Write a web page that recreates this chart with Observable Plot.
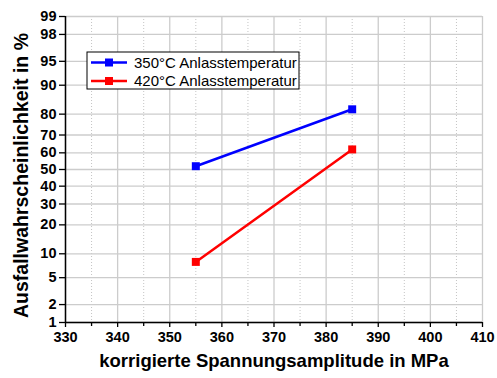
<!DOCTYPE html>
<html>
<head>
<meta charset="utf-8">
<script src="https://cdn.jsdelivr.net/npm/d3@7"></script>
<script src="https://cdn.jsdelivr.net/npm/@observablehq/plot@0.6"></script>
<style>
  html, body { margin: 0; padding: 0; background: #fff; }
  #chart { position: relative; width: 497px; height: 378px; }
</style>
</head>
<body>
<div id="chart"></div>
<script>
// ---- data ----
const seriesNames = ["350°C Anlasstemperatur", "420°C Anlasstemperatur"];
const seriesColors = ["#0000ff", "#ff0000"];
const stressAmplitude = [355, 385];             // MPa
const failure350 = [52, 82];                    // %
const failure420 = [8, 62];                     // %
const xTicks = [330, 340, 350, 360, 370, 380, 390, 400, 410];
const xMinorTicks = [335, 345, 355, 365, 375, 385, 395, 405];
const yTicks = [1, 2, 5, 10, 20, 30, 40, 50, 60, 70, 80, 90, 95, 98, 99];
const xTitle = "korrigierte Spannungsamplitude in MPa";
const yTitle = "Ausfallwahrscheinlichkeit in %";

// inverse normal CDF (Acklam) for probability-scale axis
function probit(p) {
  const a = [-3.969683028665376e+01, 2.209460984245205e+02, -2.759285104469687e+02, 1.383577518672690e+02, -3.066479806614716e+01, 2.506628277459239e+00];
  const b = [-5.447609879822406e+01, 1.615858368580409e+02, -1.556989798598866e+02, 6.680131188771972e+01, -1.328068155288572e+01];
  const c = [-7.784894002430293e-03, -3.223964580411365e-01, -2.400758277161838e+00, -2.549732539343734e+00, 4.374664141464968e+00, 2.938163982698783e+00];
  const d = [7.784695709041462e-03, 3.224671290700398e-01, 2.445134137142996e+00, 3.754408661907416e+00];
  const pl = 0.02425, ph = 1 - pl;
  let q, r;
  if (p < pl) {
    q = Math.sqrt(-2 * Math.log(p));
    return (((((c[0]*q+c[1])*q+c[2])*q+c[3])*q+c[4])*q+c[5]) / ((((d[0]*q+d[1])*q+d[2])*q+d[3])*q+1);
  } else if (p <= ph) {
    q = p - 0.5; r = q * q;
    return (((((a[0]*r+a[1])*r+a[2])*r+a[3])*r+a[4])*r+a[5])*q / (((((b[0]*r+b[1])*r+b[2])*r+b[3])*r+b[4])*r+1);
  } else {
    q = Math.sqrt(-2 * Math.log(1 - p));
    return -(((((c[0]*q+c[1])*q+c[2])*q+c[3])*q+c[4])*q+c[5]) / ((((d[0]*q+d[1])*q+d[2])*q+d[3])*q+1);
  }
}
const z = pct => probit(pct / 100);

const rows = [];
[failure350, failure420].forEach((vals, si) => {
  vals.forEach((v, i) => rows.push({series: seriesNames[si], x: stressAmplitude[i], p: v, zy: z(v)}));
});
const yTickZ = yTicks.map(z);
const yLabel = v => String(yTicks[yTickZ.indexOf(v)]);

const font = "'Liberation Sans', Arial, Helvetica, sans-serif";

const chart = Plot.plot({
  width: 497,
  height: 378,
  marginLeft: 65,
  marginRight: 15,
  marginTop: 16,
  marginBottom: 56,
  style: {fontFamily: font, background: "#fff", overflow: "visible"},
  x: {domain: [330, 410]},
  y: {domain: [z(1), z(99)]},
  color: {domain: seriesNames, range: seriesColors},
  marks: [
    Plot.gridX(xMinorTicks, {stroke: "#c4c4c4", strokeOpacity: 1, strokeDasharray: "1,2"}),
    Plot.gridX(xTicks, {stroke: "#cccccc", strokeOpacity: 1, strokeWidth: 1.3}),
    Plot.gridY(yTickZ, {stroke: "#cccccc", strokeOpacity: 1, strokeWidth: 1.3}),
    Plot.axisX(xTicks, {tickSize: 5, tickPadding: 4, fontSize: 14.5, fontWeight: "bold", label: null, strokeWidth: 1.3}),
    Plot.axisX(xMinorTicks, {tickSize: 4, tickFormat: () => "", label: null, strokeWidth: 1.3}),
    Plot.axisY(yTickZ, {tickSize: 6, tickPadding: 3, fontSize: 14.5, fontWeight: "bold", tickFormat: yLabel, label: null, strokeWidth: 1.3}),
    Plot.ruleX([330], {stroke: "#000", strokeWidth: 1.5}),
    Plot.ruleY([z(1)], {stroke: "#000", strokeWidth: 1.5}),
    Plot.line(rows, {x: "x", y: "zy", z: "series", stroke: "series", strokeWidth: 2.5}),
    Plot.dot(rows, {x: "x", y: "zy", fill: "series", symbol: "square", r: 4.5, stroke: null}),
    Plot.text([xTitle], {frameAnchor: "bottom", dy: 44, fontSize: 18.5, fontWeight: "bold", fill: "#000"}),
    Plot.text([yTitle], {frameAnchor: "left", dx: -44, dy: 6, rotate: -90, textAnchor: "middle", fontSize: 19.5, fontWeight: "bold", fill: "#000"})
  ]
});
document.getElementById("chart").appendChild(chart);

// legend
const svg = d3.select(chart);
const lg = svg.append("g");
lg.append("rect").attr("x", 87).attr("y", 52).attr("width", 212).attr("height", 37)
  .attr("fill", "#fff").attr("stroke", "#000").attr("stroke-width", 1);
seriesNames.forEach((name, i) => {
  const cy = 62.5 + i * 18.5;
  lg.append("line").attr("x1", 91).attr("x2", 127).attr("y1", cy).attr("y2", cy)
    .attr("stroke", seriesColors[i]).attr("stroke-width", 2.5);
  lg.append("rect").attr("x", 105).attr("y", cy - 4).attr("width", 8).attr("height", 8)
    .attr("fill", seriesColors[i]);
  lg.append("text").attr("x", 134).attr("y", cy).attr("dy", "0.35em")
    .style("font-family", font).style("font-size", "15px").style("font-weight", "normal")
    .style("text-anchor", "start").style("fill", "#000").text(name);
});
</script>
</body>
</html>
